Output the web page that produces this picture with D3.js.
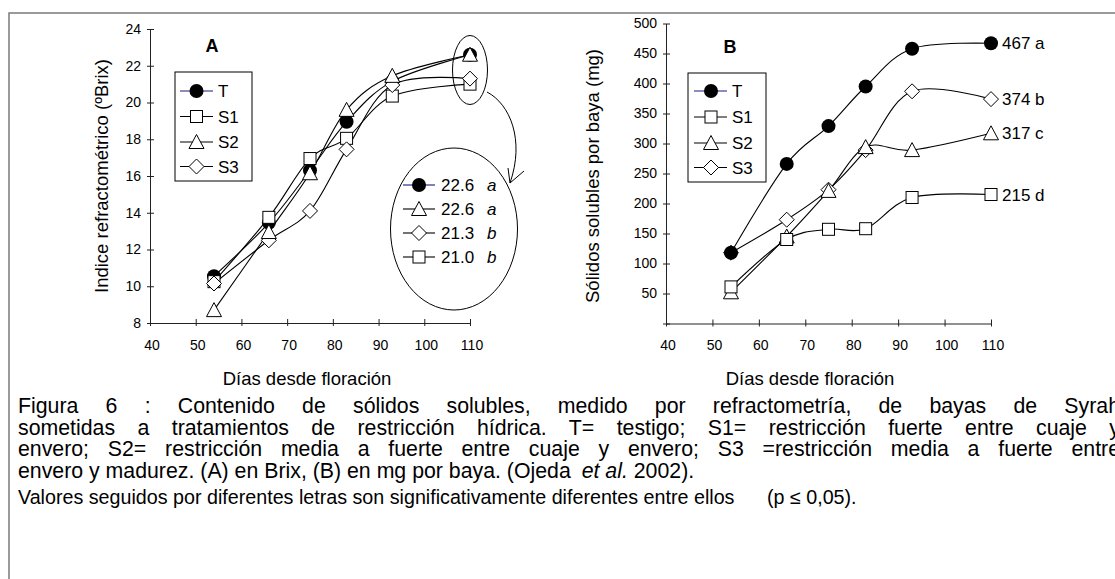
<!DOCTYPE html>
<html>
<head>
<meta charset="utf-8">
<script src="https://cdn.jsdelivr.net/npm/d3@7"></script>
<style>
body { margin: 0; background: #fff; }
svg { display: block; font-family: "Liberation Sans", Arial, sans-serif; }
</style>
</head>
<body>
<svg id="fig" width="1115" height="579"></svg>
<script>
// days after flowering
var days = [54, 66, 75, 83, 93, 110];
var seriesNames = ["T", "S1", "S2", "S3"];

// panel A : ºBrix
var brixT  = [10.55, 13.45, 16.3, 18.95, 21.15, 22.6];
var brixS1 = [10.25, 13.75, 16.95, 18.05, 20.35, 21.0];
var brixS2 = [8.7, 12.95, 16.15, 19.6, 21.45, 22.6];
var brixS3 = [10.15, 12.5, 14.1, 17.45, 20.95, 21.3];

// panel B : mg per berry
var solT  = [118, 266, 329, 395, 458, 467];
var solS1 = [61, 140, 157, 158, 210, 215];
var solS2 = [52, 145, 221, 294, 289, 317];
var solS3 = [118, 173, 223, 289, 387, 374];

var xTicks = [40, 50, 60, 70, 80, 90, 100, 110];
var yTicksA = [8, 10, 12, 14, 16, 18, 20, 22, 24];
var yTicksB = [0, 50, 100, 150, 200, 250, 300, 350, 400, 450, 500];

// inset of panel A (final values)
var insetSeries = ["T", "S2", "S3", "S1"];
var insetValues = ["22.6", "22.6", "21.3", "21.0"];
var insetLetters = ["a", "a", "b", "b"];

// end labels of panel B
var endSeriesB = ["T", "S3", "S2", "S1"];
var endLabelsB = ["467 a", "374 b", "317 c", "215 d"];

var captionLines = [
	"Figura 6 : Contenido de sólidos solubles, medido por refractometría, de bayas de Syrah",
	"sometidas a tratamientos de restricción hídrica. T= testigo; S1= restricción fuerte entre cuaje y",
	"envero; S2= restricción media a fuerte entre cuaje y envero; S3 =restricción media a fuerte entre"
];

var svg = d3.select("#fig");
svg.append("rect").attr("width", 1115).attr("height", 579).attr("fill", "#fff");
// frame (runs off the right and bottom edges)
svg.append("rect")
	.attr("x", 9).attr("y", 13).attr("width", 1200).attr("height", 700)
	.attr("fill", "none").attr("stroke", "#7a7a7a").attr("stroke-width", 1.5);

var line = d3.line().curve(d3.curveCatmullRom.alpha(0));

var drawMarker = function(g, name, cx, cy) {
	if (name == "T") {
		g.append("circle").attr("cx", cx).attr("cy", cy).attr("r", 7).attr("fill", "#000");
	} else if (name == "S1") {
		g.append("rect").attr("x", cx - 6).attr("y", cy - 6).attr("width", 12).attr("height", 12)
			.attr("fill", "#fff").attr("stroke", "#000").attr("stroke-width", 1);
	} else if (name == "S2") {
		g.append("path")
			.attr("d", "M" + cx + "," + (cy - 7.5) + "L" + (cx + 7.5) + "," + (cy + 6.5) + "L" + (cx - 7.5) + "," + (cy + 6.5) + "Z")
			.attr("fill", "#fff").attr("stroke", "#000").attr("stroke-width", 1);
	} else {
		g.append("path")
			.attr("d", "M" + cx + "," + (cy - 7.5) + "L" + (cx + 7.5) + "," + cy + "L" + cx + "," + (cy + 7.5) + "L" + (cx - 7.5) + "," + cy + "Z")
			.attr("fill", "#fff").attr("stroke", "#000").attr("stroke-width", 1);
	}
};

var drawAxes = function(x, y, yTicks) {
	var xa = svg.append("g")
		.attr("transform", "translate(0," + y.range()[0] + ")")
		.call(d3.axisBottom(x).tickValues(xTicks).tickSizeOuter(0).tickFormat(d3.format("d")))
		.attr("font-size", 14).attr("font-family", null);
	xa.select(".domain").attr("stroke", "#222");
	xa.selectAll(".tick line").attr("y1", -4).attr("y2", 3).attr("stroke", "#222");
	xa.selectAll(".tick text").attr("y", 17).attr("dx", 1.5).attr("fill", "#000");

	var ya = svg.append("g")
		.attr("transform", "translate(" + x.range()[0] + ",0)")
		.call(d3.axisLeft(y).tickValues(yTicks).tickSizeOuter(0)
			.tickFormat(function(d) { return d === 0 ? "" : d; }))
		.attr("font-size", 14).attr("font-family", null);
	ya.select(".domain").attr("stroke", "#222");
	ya.selectAll(".tick line").attr("x1", -3).attr("x2", 4).attr("stroke", "#222");
	ya.selectAll(".tick text").attr("x", -9).attr("fill", "#000");
};

var drawSeries = function(x, y, data, order) {
	var lines = svg.append("g");
	for (var i = 0; i < seriesNames.length; i++) {
		var vals = data[seriesNames[i]];
		lines.append("path")
			.datum(days.map(function(d, j) { return [x(d), y(vals[j])]; }))
			.attr("d", line)
			.attr("fill", "none").attr("stroke", "#000").attr("stroke-width", 1.1);
	}
	var marks = svg.append("g");
	order.forEach(function(name) {
		var vals = data[name];
		days.forEach(function(d, j) { drawMarker(marks, name, x(d), y(vals[j])); });
	});
};

var drawLegend = function(bx, by, bw, bh, rowY, lx0, lx1, mx, tx) {
	var g = svg.append("g");
	g.append("rect").attr("x", bx).attr("y", by).attr("width", bw).attr("height", bh)
		.attr("fill", "#fff").attr("stroke", "#000").attr("stroke-width", 1);
	seriesNames.forEach(function(name, i) {
		var ry = rowY[i];
		g.append("line").attr("x1", lx0).attr("x2", lx1).attr("y1", ry).attr("y2", ry)
			.attr("stroke", name == "T" ? "#1a1a80" : "#000").attr("stroke-width", 1.1);
		drawMarker(g, name, mx, ry);
		g.append("text").attr("x", tx).attr("y", ry).attr("dy", "0.36em")
			.attr("font-size", 17).text(name);
	});
};

// ---------- panel A ----------
var xA = d3.scaleLinear().domain([40, 110]).range([150, 470]),
	yA = d3.scaleLinear().domain([8, 24]).range([323, 29]);
drawAxes(xA, yA, yTicksA);
drawSeries(xA, yA, {T: brixT, S1: brixS1, S2: brixS2, S3: brixS3}, ["T", "S1", "S3", "S2"]);
drawLegend(175, 72, 77, 109, [91, 116.5, 142, 166.5], 180, 213, 196.5, 218);

svg.append("text").attr("x", 212).attr("y", 52).attr("text-anchor", "middle")
	.attr("font-size", 18).attr("font-weight", "bold").text("A");
svg.append("text").attr("x", 307).attr("y", 385).attr("text-anchor", "middle")
	.attr("font-size", 18.5).text("Días desde floración");
svg.append("text").attr("transform", "translate(108,176) rotate(-90)").attr("text-anchor", "middle")
	.attr("font-size", 18.5).text("Indice refractométrico (ºBrix)");

// ellipses and arrow of the inset
svg.append("ellipse").attr("cx", 470).attr("cy", 70).attr("rx", 17.5).attr("ry", 34.5)
	.attr("fill", "none").attr("stroke", "#000").attr("stroke-width", 1);
svg.append("ellipse").attr("cx", 454).attr("cy", 229).attr("rx", 63.5).attr("ry", 81)
	.attr("fill", "#fff").attr("stroke", "#000").attr("stroke-width", 1);
svg.append("path").attr("d", "M487,92 C510,104 525,140 510,183")
	.attr("fill", "none").attr("stroke", "#000").attr("stroke-width", 1);
svg.append("path").attr("d", "M508,168 L510,183 L524,171")
	.attr("fill", "none").attr("stroke", "#000").attr("stroke-width", 1);

var inset = svg.append("g");
insetSeries.forEach(function(name, i) {
	var ry = 185 + i * 24;
	inset.append("line").attr("x1", 403).attr("x2", 435).attr("y1", ry).attr("y2", ry)
		.attr("stroke", name == "T" ? "#1a1a80" : "#000").attr("stroke-width", 1.1);
	drawMarker(inset, name, 419, ry);
	inset.append("text").attr("x", 441).attr("y", ry).attr("dy", "0.36em")
		.attr("font-size", 17).text(insetValues[i]);
	inset.append("text").attr("x", 487).attr("y", ry).attr("dy", "0.36em")
		.attr("font-size", 17).attr("font-style", "italic").text(insetLetters[i]);
});

// ---------- panel B ----------
var xB = d3.scaleLinear().domain([40, 110]).range([666, 991]),
	yB = d3.scaleLinear().domain([0, 500]).range([323.5, 23.5]);
drawAxes(xB, yB, yTicksB);
var dataB = {T: solT, S1: solS1, S2: solS2, S3: solS3};
drawSeries(xB, yB, dataB, ["S3", "S2", "S1", "T"]);
drawLegend(688, 73, 78, 109, [91, 117, 143, 167.5], 694, 727, 711, 732);

svg.append("text").attr("x", 730).attr("y", 53).attr("text-anchor", "middle")
	.attr("font-size", 18).attr("font-weight", "bold").text("B");
svg.append("text").attr("x", 810).attr("y", 385).attr("text-anchor", "middle")
	.attr("font-size", 18.5).text("Días desde floración");
svg.append("text").attr("transform", "translate(599,176) rotate(-90)").attr("text-anchor", "middle")
	.attr("font-size", 18.5).text("Sólidos solubles por baya (mg)");

endSeriesB.forEach(function(name, i) {
	var vals = dataB[name];
	svg.append("text").attr("x", xB(days[days.length - 1]) + 11)
		.attr("y", yB(vals[vals.length - 1])).attr("dy", "0.36em")
		.attr("font-size", 17).text(endLabelsB[i]);
});

// ---------- caption ----------
var capW = 1102, capX = 18, capSize = 21.3;
captionLines.forEach(function(txt, i) {
	var t = svg.append("text").attr("x", capX).attr("y", 413 + i * 21.7)
		.attr("font-size", capSize).text(txt);
	var w = t.node().getComputedTextLength(),
		n = txt.split(" ").length - 1;
	t.attr("word-spacing", (capW - w) / n);
});
var last = svg.append("text").attr("x", capX).attr("y", 478).attr("font-size", capSize);
last.append("tspan").text("envero y madurez. (A) en Brix, (B) en mg por baya. (Ojeda ");
last.append("tspan").attr("dx", 5).attr("font-style", "italic").text("et al.");
last.append("tspan").text(" 2002).");

svg.append("text").attr("x", capX).attr("y", 504).attr("font-size", 19.7)
	.text("Valores seguidos por diferentes letras son significativamente diferentes entre ellos");
svg.append("text").attr("x", 767).attr("y", 504).attr("font-size", 19.7)
	.text("(p ≤ 0,05).");
</script>
</body>
</html>
